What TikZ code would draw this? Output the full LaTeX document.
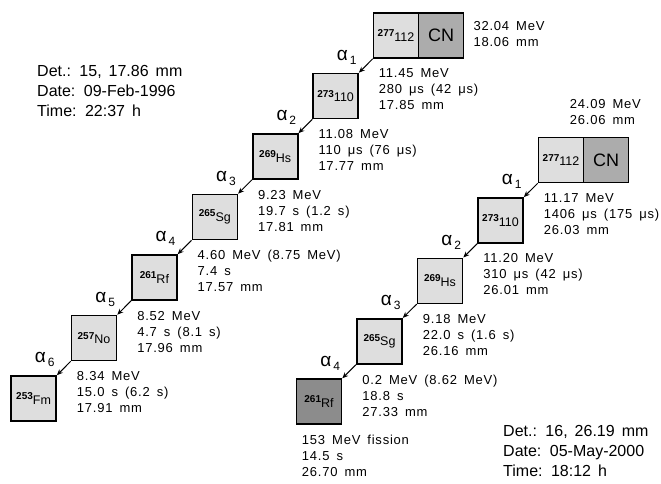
\documentclass[tikz,border=0pt]{standalone}
\usepackage{fontspec}
\setmainfont{Liberation Sans}
\newfontfamily\decayfont{Liberation Sans}[LetterSpace=6]
\usetikzlibrary{arrows.meta,positioning}

\newcommand{\decaytxt}{\decayfont\fontsize{13}{16}\selectfont\spaceskip 7pt plus 1pt\relax}
\newcommand{\infotxt}{\fontsize{16}{20.3}\selectfont\spaceskip 7pt plus 1pt\relax}
\newcommand{\iso}[2]{\raisebox{4.5pt}{\fontsize{10}{10}\selectfont\bfseries #1}#2}
\newcommand{\alf}[1]{{\fontsize{19}{19}\selectfont α}\kern2pt\raisebox{-4pt}{\fontsize{12}{12}\selectfont #1}}

\begin{document}
\begin{tikzpicture}[x=1pt, y=-1pt,
  nuc/.style={draw, line width=1.6pt, fill=boxfill, minimum width=45pt,
    minimum height=45pt, inner sep=0pt, font=\fontsize{12.5}{12.5}\selectfont},
  cnbox/.style={nuc, fill=cnfill, font=\fontsize{18}{18}\selectfont},
  fisbox/.style={nuc, fill=fisfill},
  decay/.style={anchor=north west, inner sep=0pt, align=left, font=\decaytxt},
  alab/.style={anchor=base west, inner sep=0pt},
  info/.style={anchor=north west, inner sep=0pt, align=left, font=\infotxt},
  arr/.style={line width=1pt, -{Stealth[length=6pt, width=5pt]}}
]

% === Colors ===
\definecolor{boxfill}{RGB}{222,222,222}
\definecolor{cnfill}{RGB}{172,172,172}
\definecolor{fisfill}{RGB}{140,140,140}

\useasboundingbox (0,0) rectangle (661,483);

% === Chain 1996 (left) ===
\foreach \nm/\lab [count=\i from 0] in {
  l0/{\iso{277}{112}}, l1/{\iso{273}{110}}, l2/{\iso{269}{Hs}},
  l3/{\iso{265}{Sg}}, l4/{\iso{261}{Rf}}, l5/{\iso{257}{No}},
  l6/{\iso{253}{Fm}}}{
  \node[nuc] (\nm) at (396-60.4*\i, 35.5+60.5*\i) {\lab};
}
\node[cnbox, right=-1.6pt of l0] (lcn) {CN};

% === Chain 2000 (right) ===
\foreach \nm/\lab/\sty [count=\i from 0] in {
  r0/{\iso{277}{112}}/nuc, r1/{\iso{273}{110}}/nuc, r2/{\iso{269}{Hs}}/nuc,
  r3/{\iso{265}{Sg}}/nuc, r4/{\iso{261}{Rf}}/fisbox}{
  \node[\sty] (\nm) at (561-60.5*\i, 160+60.4*\i) {\lab};
}
\node[cnbox, right=-1.6pt of r0] (rcn) {CN};

% === Alpha decays ===
\foreach \up/\dn/\k/\txt in {
  l0/l1/1/{11.45 MeV\\280 μs (42 μs)\\17.85 mm},
  l1/l2/2/{11.08 MeV\\110 μs (76 μs)\\17.77 mm},
  l2/l3/3/{9.23 MeV\\19.7 s (1.2 s)\\17.81 mm},
  l3/l4/4/{4.60 MeV (8.75 MeV)\\7.4 s\\17.57 mm},
  l4/l5/5/{8.52 MeV\\4.7 s (8.1 s)\\17.96 mm},
  l5/l6/6/{8.34 MeV\\15.0 s (6.2 s)\\17.91 mm},
  r0/r1/1/{11.17 MeV\\1406 μs (175 μs)\\26.03 mm},
  r1/r2/2/{11.20 MeV\\310 μs (42 μs)\\26.01 mm},
  r2/r3/3/{9.18 MeV\\22.0 s (1.6 s)\\26.16 mm},
  r3/r4/4/{0.2 MeV (8.62 MeV)\\18.8 s\\27.33 mm}}{
  \draw[arr] (\up.south west) -- (\dn.north east);
  \node[alab] (a-\up) at ([shift={(-36,1.5)}]\up.south west) {\alf{\k}};
  \node[decay] (t-\up) at ([shift={(6,10)}]\up.south west) {\txt};
}

% === Fission and CN energies ===
\node[decay] (t-r4) at ([shift={(6,10)}]r4.south west) {153 MeV fission\\14.5 s\\26.70 mm};
\node[decay] (t-lcn) at ([shift={(9,9)}]lcn.north east) {32.04 MeV\\18.06 mm};
\node[decay] (t-rcn) at ([shift={(32,-37)}]r0.north west) {24.09 MeV\\26.06 mm};

% === Event info ===
\node[info] (det-l) at (37,65) {Det.: 15, 17.86 mm\\Date: 09-Feb-1996\\Time: 22:37 h};
\node[info] (det-r) at (503,425) {Det.: 16, 26.19 mm\\Date: 05-May-2000\\Time: 18:12 h};

\end{tikzpicture}
\end{document}
